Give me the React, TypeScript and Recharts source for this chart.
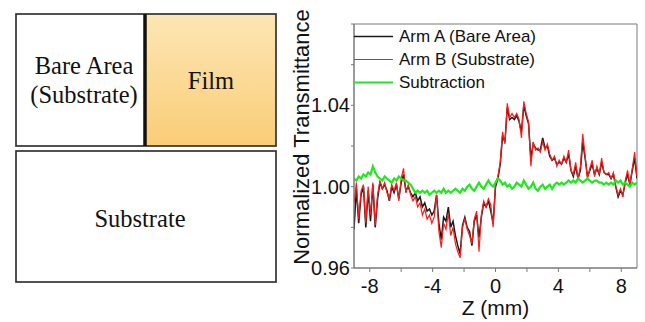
import React from 'react';
import { LineChart, Line, XAxis, YAxis, Legend, ReferenceArea } from 'recharts';

// ---- data ----
const armA = [
  0.979, 0.999, 0.982, 0.996, 1.000, 0.980, 0.998, 0.983, 1.001, 0.980,
  0.994, 1.002, 0.999, 1.001, 0.998, 0.993, 1.000, 0.997, 1.001, 0.994,
  1.002, 1.006, 0.998, 1.000, 0.997, 0.995, 0.997, 0.993, 0.995, 0.990,
  0.992, 0.988, 0.989, 0.986, 0.988, 0.996, 0.982, 0.974, 0.985, 0.983,
  0.990, 0.980, 0.983, 0.976, 0.971, 0.967, 0.981, 0.985, 0.980, 0.978,
  0.971, 0.983, 0.986, 0.975, 0.985, 0.992, 0.990, 0.993, 0.988, 0.982,
  1.000, 1.004, 1.011, 1.025, 1.022, 1.039, 1.033, 1.034, 1.033, 1.035,
  1.032, 1.027, 1.040, 1.035, 1.031, 1.014, 1.021, 1.019, 1.018, 1.018,
  1.024, 1.019, 1.020, 1.015, 1.013, 1.014, 1.011, 1.012, 1.011, 1.014,
  1.012, 1.016, 1.008, 1.005, 1.010, 1.004, 1.008, 1.022, 1.014, 1.005,
  1.008, 1.011, 1.006, 1.009, 1.006, 1.012, 1.007, 1.006, 1.006, 1.004,
  1.006, 1.000, 0.995, 0.998, 0.996, 1.002, 1.006, 1.001, 1.008, 1.014,
  1.004,
];

const armB = [
  0.992, 1.002, 0.984, 0.998, 1.001, 0.982, 1.000, 0.986, 1.002, 0.981,
  0.996, 1.003, 0.999, 1.002, 0.997, 0.994, 1.001, 0.998, 1.002, 0.993,
  1.004, 1.009, 0.997, 1.001, 0.996, 0.993, 0.995, 0.990, 0.992, 0.986,
  0.989, 0.984, 0.986, 0.982, 0.985, 0.996, 0.978, 0.970, 0.982, 0.979,
  0.987, 0.976, 0.980, 0.972, 0.968, 0.965, 0.980, 0.984, 0.979, 0.976,
  0.972, 0.984, 0.988, 0.968, 0.986, 0.993, 0.990, 0.994, 0.991, 0.980,
  1.001, 1.005, 1.012, 1.027, 1.021, 1.041, 1.034, 1.036, 1.034, 1.036,
  1.033, 1.024, 1.042, 1.036, 1.032, 1.010, 1.022, 1.018, 1.019, 1.017,
  1.022, 1.018, 1.021, 1.016, 1.013, 1.015, 1.010, 1.013, 1.011, 1.015,
  1.012, 1.018, 1.008, 1.006, 1.012, 1.004, 1.010, 1.026, 1.015, 1.004,
  1.009, 1.013, 1.005, 1.010, 1.006, 1.014, 1.007, 1.006, 1.007, 1.004,
  1.007, 1.000, 0.996, 0.999, 0.995, 1.003, 1.008, 1.001, 1.009, 1.017,
  1.005,
];

const subtraction = [
  1.004, 1.003, 1.005, 1.004, 1.006, 1.005, 1.007, 1.006, 1.010, 1.007,
  1.005, 1.004, 1.003, 1.005, 1.004, 1.003, 1.002, 1.004, 1.003, 1.005,
  1.004, 1.003, 1.003, 1.002, 1.001, 0.999, 0.997, 0.998, 0.997, 0.998,
  0.997, 0.998, 0.996, 0.997, 0.998, 0.997, 0.998, 0.997, 0.999, 0.997,
  0.998, 0.997, 0.998, 0.999, 0.998, 0.997, 0.999, 0.998, 1.000, 1.001,
  0.999, 0.998, 1.000, 1.002, 1.000, 0.999, 1.001, 1.003, 1.001, 1.000,
  1.002, 1.004, 1.003, 1.001, 1.002, 1.000, 1.001, 0.999, 1.000, 1.002,
  1.001, 1.000, 1.003, 1.001, 0.999, 1.000, 1.002, 0.999, 0.998, 1.000,
  1.001, 0.999, 1.000, 1.001, 0.999, 1.001, 1.002, 1.001, 1.002, 1.001,
  1.002, 1.003, 1.002, 1.003, 1.002, 1.004, 1.003, 1.002, 1.003, 1.004,
  1.003, 1.002, 1.003, 1.003, 1.002, 1.002, 1.001, 1.002, 1.001, 1.002,
  1.001, 1.003, 1.002, 1.003, 1.001, 1.002, 1.001, 1.000, 1.002, 1.001,
  1.002,
];

const zStart = -9;
const zStep = 0.15;
const zValues = armB.map((_, i) => Math.round((zStart + zStep * i) * 100) / 100);

const xTicks = [-8, -6, -4, -2, 0, 2, 4, 6, 8];
const xTickLabels = [-8, -4, 0, 4, 8];
const yTicks = [0.96, 0.98, 1.0, 1.02, 1.04, 1.06, 1.08];
const yTickLabels = ['0.96', '1.00', '1.04'];

const seriesNames = {
  armA: 'Arm A (Bare Area)',
  armB: 'Arm B (Substrate)',
  sub: 'Subtraction',
};

const data = zValues.map((z, i) => ({
  z,
  armA: armA[i],
  armB: armB[i],
  sub: subtraction[i],
}));

const SANS = '"Liberation Sans", Arial, sans-serif';
const SERIF = '"Liberation Serif", "Times New Roman", serif';
const FRAME = '#7a7a7a';

const legendOrder = ['armA', 'armB', 'sub'];
const legendWidths: Record<string, number> = { armA: 1.3, armB: 1.1, sub: 2.2 };

const renderLegend = (props: any) => {
  const payload = [...(props.payload || [])].sort(
    (a: any, b: any) => legendOrder.indexOf(a.dataKey) - legendOrder.indexOf(b.dataKey)
  );
  return (
    <svg width={200} height={72} style={{ display: 'block' }}>
      {payload.map((p: any, i: number) => {
        const y = 12.5 + i * 23;
        return (
          <g key={p.dataKey}>
            <line x1={0} x2={39} y1={y} y2={y} stroke={p.color} strokeWidth={legendWidths[p.dataKey] || 1} />
            <text x={45} y={y} dominantBaseline="central" fontSize={17} fontFamily={SANS} fill="#111">
              {p.value}
            </text>
          </g>
        );
      })}
    </svg>
  );
};

const YTitle = (props: any) => {
  const vb = props.viewBox || { x: 24, y: 24, width: 50, height: 244 };
  const cx = vb.x - 3;
  const cy = vb.y + vb.height / 2 - 9;
  return (
    <text
      x={cx}
      y={cy}
      transform={`rotate(-90 ${cx} ${cy})`}
      textAnchor="middle"
      dominantBaseline="central"
      fontSize={22}
      fontFamily={SANS}
      fill="#111"
    >
      Normalized Transmittance
    </text>
  );
};

const XTitle = (props: any) => {
  const vb = props.viewBox || { x: 74, y: 268, width: 283, height: 30 };
  return (
    <text x={vb.x + vb.width / 2} y={vb.y + 47} textAnchor="middle" fontSize={21} fontFamily={SANS} fill="#111">
      Z (mm)
    </text>
  );
};

const Diagram = () => (
  <svg width={290} height={322} style={{ position: 'absolute', left: 0, top: 0 }}>
    <defs>
      <linearGradient id="filmGrad" x1="0" y1="0" x2="0" y2="1">
        <stop offset="0%" stopColor="#fde6b4" />
        <stop offset="100%" stopColor="#facd78" />
      </linearGradient>
    </defs>
    <rect x={16} y={14} width={260} height={132} fill="#fff" />
    <rect x={146} y={14} width={130} height={132} fill="url(#filmGrad)" />
    <rect x={16} y={14} width={260} height={132} fill="none" stroke="#333" strokeWidth={1.7} />
    <line x1={145} x2={145} y1={14} y2={146} stroke="#111" strokeWidth={3.5} />
    <rect x={16} y={151} width={260} height={131} fill="#fff" stroke="#333" strokeWidth={1.7} />
    <text x={84} y={74} textAnchor="middle" fontSize={24.5} fontFamily={SERIF} fill="#111">Bare Area</text>
    <text x={84} y={103} textAnchor="middle" fontSize={24.5} fontFamily={SERIF} fill="#111">(Substrate)</text>
    <text x={211} y={89} textAnchor="middle" fontSize={24.5} fontFamily={SERIF} fill="#111">Film</text>
    <text x={140} y={227} textAnchor="middle" fontSize={24.5} fontFamily={SERIF} fill="#111">Substrate</text>
  </svg>
);

export default function App() {
  return (
    <div style={{ position: 'absolute', left: 0, top: 0, width: 645, height: 322, background: '#fff', overflow: 'hidden' }}>
      <Diagram />
      <div style={{ position: 'absolute', left: 280, top: 0 }}>
        <LineChart width={365} height={322} data={data} margin={{ top: 24, right: 8, bottom: 24, left: 24 }}>
          <ReferenceArea x1={-9} x2={9} y1={0.96} y2={1.08} fill="none" fillOpacity={0} stroke={FRAME} strokeWidth={1} />
          <XAxis
            dataKey="z"
            type="number"
            domain={[-9, 9]}
            ticks={xTicks}
            allowDataOverflow
            height={30}
            tickSize={4}
            tickMargin={7}
            stroke={FRAME}
            tickFormatter={(v: number) => (xTickLabels.includes(v) ? String(v) : '')}
            tick={{ fontSize: 20, fill: '#111', fontFamily: SANS }}
            label={<XTitle />}
          />
          <YAxis
            type="number"
            domain={[0.96, 1.08]}
            ticks={yTicks}
            allowDataOverflow
            width={50}
            tickSize={3}
            tickMargin={1}
            stroke={FRAME}
            tickFormatter={(v: number) => (yTickLabels.includes(v.toFixed(2)) ? v.toFixed(2) : '')}
            tick={{ fontSize: 20, fill: '#111', fontFamily: SANS }}
            label={<YTitle />}
          />
          <Legend
            layout="vertical"
            align="center"
            verticalAlign="middle"
            content={renderLegend}
            wrapperStyle={{ left: 74, top: 24, width: 200, height: 72 }}
          />
          <Line type="linear" dataKey="armA" name={seriesNames.armA} stroke="#1a1a1a" strokeWidth={1.5} dot={false} isAnimationActive={false} />
          <Line type="linear" dataKey="armB" name={seriesNames.armB} stroke="#ff1a1a" strokeWidth={1.2} dot={false} isAnimationActive={false} />
          <Line type="linear" dataKey="sub" name={seriesNames.sub} stroke="#1ee81e" strokeWidth={2.2} dot={false} isAnimationActive={false} />
        </LineChart>
      </div>
    </div>
  );
}
